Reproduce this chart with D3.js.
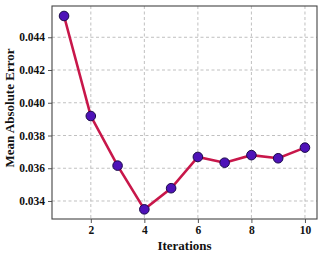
<!DOCTYPE html>
<html><head><meta charset="utf-8">
<script src="https://cdn.jsdelivr.net/npm/d3@7"></script>
<style>body{margin:0;background:#fff}svg{display:block}</style>
</head><body><svg id="c" width="322" height="260"></svg>
<script>
const iterations = [1,2,3,4,5,6,7,8,9,10];
const maeValues = [0.0453,0.03919,0.03616,0.03349,0.03478,0.03669,0.03634,0.0368,0.03661,0.03726];
const xTicks = [2,4,6,8,10];
const yTicks = [0.034,0.036,0.038,0.040,0.042,0.044];

const svg = d3.select("#c");
const m = {l:52, r:317, t:6, b:219};
const x = d3.scaleLinear().domain([0.55,10.45]).range([m.l,m.r]);
const y = d3.scaleLinear().domain([0.03290,0.04591]).range([m.b,m.t]);
const font = "'Liberation Serif','Times New Roman',serif";

// grid
const g = svg.append("g");
g.selectAll(".gx").data(xTicks).join("line")
  .attr("x1",d=>x(d)).attr("x2",d=>x(d)).attr("y1",m.t).attr("y2",m.b)
  .attr("stroke","#b0b0b0").attr("stroke-width",0.8).attr("stroke-dasharray","3,2.5");
g.selectAll(".gy").data(yTicks).join("line")
  .attr("y1",d=>y(d)).attr("y2",d=>y(d)).attr("x1",m.l).attr("x2",m.r)
  .attr("stroke","#b0b0b0").attr("stroke-width",0.8).attr("stroke-dasharray","3,2.5");

// axes
const xa = svg.append("g").attr("transform",`translate(0,${m.b})`)
  .call(d3.axisBottom(x).tickValues(xTicks).tickSize(4).tickPadding(3).tickFormat(d3.format("d")));
const ya = svg.append("g").attr("transform",`translate(${m.l},0)`)
  .call(d3.axisLeft(y).tickValues(yTicks).tickSize(4).tickPadding(3).tickFormat(d3.format(".3f")));
[xa,ya].forEach(a=>{
  a.select(".domain").remove();
  a.selectAll(".tick line").attr("stroke","#444").attr("stroke-width",0.9);
  a.selectAll(".tick text").attr("font-family",font).attr("font-weight","bold").attr("font-size","11.5px").attr("fill","#111");
});

// frame
svg.append("rect").attr("x",m.l).attr("y",m.t).attr("width",m.r-m.l).attr("height",m.b-m.t)
  .attr("fill","none").attr("stroke","#444").attr("stroke-width",1.1);

// line
const pts = iterations.map((d,i)=>[d,maeValues[i]]);
svg.append("path").datum(pts)
  .attr("d",d3.line().x(d=>x(d[0])).y(d=>y(d[1])))
  .attr("fill","none").attr("stroke","#c8174a").attr("stroke-width",2.6);
svg.selectAll(".pt").data(pts).join("circle")
  .attr("cx",d=>x(d[0])).attr("cy",d=>y(d[1])).attr("r",4.8)
  .attr("fill","#4e12b8").attr("stroke","#1a0a4a").attr("stroke-width",1);

// labels
svg.append("text").attr("x",(m.l+m.r)/2).attr("y",250).attr("text-anchor","middle")
  .attr("font-family",font).attr("font-weight","bold").attr("font-size","13px").attr("fill","#111").text("Iterations");
svg.append("text").attr("transform",`translate(14,108) rotate(-90)`).attr("text-anchor","middle")
  .attr("font-family",font).attr("font-weight","bold").attr("font-size","13px").attr("fill","#111").text("Mean Absolute Error");
</script></body></html>
